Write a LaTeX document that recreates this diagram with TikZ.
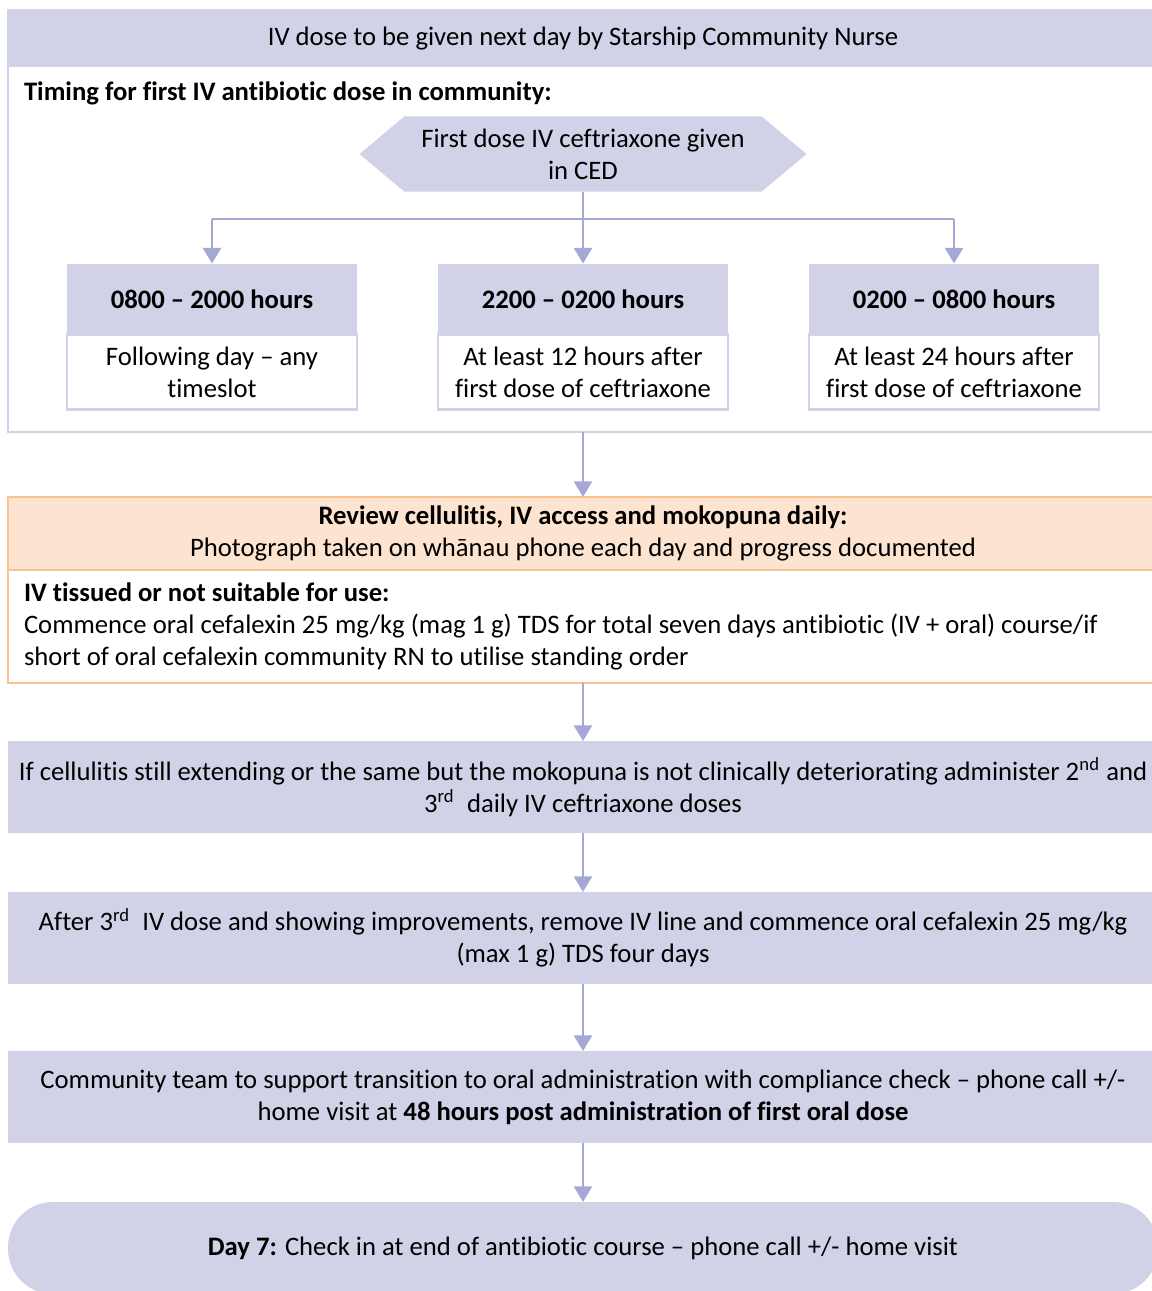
\documentclass[tikz,border=0pt]{standalone}
\usepackage{fontspec}
\setmainfont{Carlito}[Ligatures={TeX,NoCommon}]
\usepackage{tikz}
\usetikzlibrary{arrows.meta,shapes.symbols,positioning}
\definecolor{lav}{RGB}{209,210,231}
\definecolor{lavline}{RGB}{165,168,212}
\definecolor{peach}{RGB}{253,228,208}
\definecolor{peachline}{RGB}{249,194,142}
\newcommand{\pxl}[1]{#1*0.418pt}
\tikzset{every node/.style={font=\fontsize{11.15}{13.4}\selectfont, inner sep=0pt, outer sep=0pt}}

\begin{document}
\begin{tikzpicture}[x=0.418pt,y=-0.418pt,
  band/.style={fill=lav, align=center},
  plain/.style={fill=white, draw=lav, line width=1pt, align=center},
  arr/.style={draw=lavline, line width=1pt, -{Triangle[width=7.5pt,length=6.5pt]}},
  link/.style={draw=lavline, line width=1pt}]
\useasboundingbox (0,0) rectangle (1151,1291);

% community frame
\node[draw=lav, line width=1pt, minimum width=\pxl{1150}, minimum height=\pxl{422}, anchor=north west] (frame) at (8,10) {};
\node[band, minimum width=\pxl{1150}, minimum height=\pxl{57}, anchor=north west] (nurse) at (8,10) {IV dose to be given next day by Starship Community Nurse};
\node[anchor=west, font=\fontsize{11.15}{13.4}\selectfont\bfseries] (timing) at (24,93) {Timing for first IV antibiotic dose in community:};

\node[signal, signal to=west and east, signal pointer angle=80, fill=lav, minimum width=\pxl{447}, minimum height=\pxl{75}, align=center] (ced) at (583,154) {First dose IV ceftriaxone given\\in CED};

% the three time slots
\node[band, minimum width=\pxl{290}, minimum height=\pxl{71}, font=\fontsize{11.15}{13.4}\selectfont\bfseries] (slotA) at (212,299) {0800 – 2000 hours};
\node[band, minimum width=\pxl{290}, minimum height=\pxl{71}, font=\fontsize{11.15}{13.4}\selectfont\bfseries] (slotB) at (583,299) {2200 – 0200 hours};
\node[band, minimum width=\pxl{290}, minimum height=\pxl{71}, font=\fontsize{11.15}{13.4}\selectfont\bfseries] (slotC) at (954,299) {0200 – 0800 hours};
\node[plain, minimum width=\pxl{290}, minimum height=\pxl{75}, anchor=north] (waitA) at (slotA.south) {Following day – any\\timeslot};
\node[plain, minimum width=\pxl{290}, minimum height=\pxl{75}, anchor=north] (waitB) at (slotB.south) {At least 12 hours after\\first dose of ceftriaxone};
\node[plain, minimum width=\pxl{290}, minimum height=\pxl{75}, anchor=north] (waitC) at (slotC.south) {At least 24 hours after\\first dose of ceftriaxone};

\coordinate (split) at (583,219);
\draw[arr] (ced.south) -- (slotB.north);
\draw[link] (slotA.north |- split) -- (slotC.north |- split);
\draw[arr] (slotA.north |- split) -- (slotA.north);
\draw[arr] (slotC.north |- split) -- (slotC.north);

% daily review
\node[fill=peach, draw=peachline, line width=1pt, minimum width=\pxl{1150}, minimum height=\pxl{73}, anchor=north west, align=center] (review) at (8,497) {\textbf{Review cellulitis, IV access and mokopuna daily:}\\Photograph taken on whānau phone each day and progress documented};
\node[fill=white, draw=peachline, line width=1pt, minimum width=\pxl{1150}, minimum height=\pxl{113}, anchor=north, align=left, text width=\pxl{1118}] (tissued) at (review.south) {\spaceskip=0pt\xspaceskip=0pt\textbf{IV tissued or not suitable for use:}\\Commence oral cefalexin 25 mg/kg (mag 1 g) TDS for total seven days antibiotic (IV + oral) course/if\\short of oral cefalexin community RN to utilise standing order};

% steps
\node[band, minimum width=\pxl{1150}, minimum height=\pxl{92}, anchor=north west] (ivdose) at (8,741) {If cellulitis still extending or the same but the mokopuna is not clinically deteriorating administer 2\textsuperscript{nd} and\\3\textsuperscript{rd}\ \ daily IV ceftriaxone doses};
\node[band, minimum width=\pxl{1150}, minimum height=\pxl{92}, anchor=north west] (oral) at (8,892) {After 3\textsuperscript{rd}\ \ IV dose and showing improvements, remove IV line and commence oral cefalexin 25 mg/kg\\(max 1 g) TDS four days};
\node[band, minimum width=\pxl{1150}, minimum height=\pxl{92}, anchor=north west] (support) at (8,1051) {Community team to support transition to oral administration with compliance check – phone call +/-\\home visit at \textbf{48 hours post administration of first oral dose}};
\node[band, rounded corners=18.8pt, minimum width=\pxl{1150}, minimum height=\pxl{92}, anchor=north west] (dayseven) at (8,1202) {\textbf{Day 7:} Check in at end of antibiotic course – phone call +/- home visit};

\draw[arr] (frame.south) -- (review.north);
\draw[arr] (tissued.south) -- (ivdose.north);
\draw[arr] (ivdose.south) -- (oral.north);
\draw[arr] (oral.south) -- (support.north);
\draw[arr] (support.south) -- (dayseven.north);

\end{tikzpicture}
\end{document}
